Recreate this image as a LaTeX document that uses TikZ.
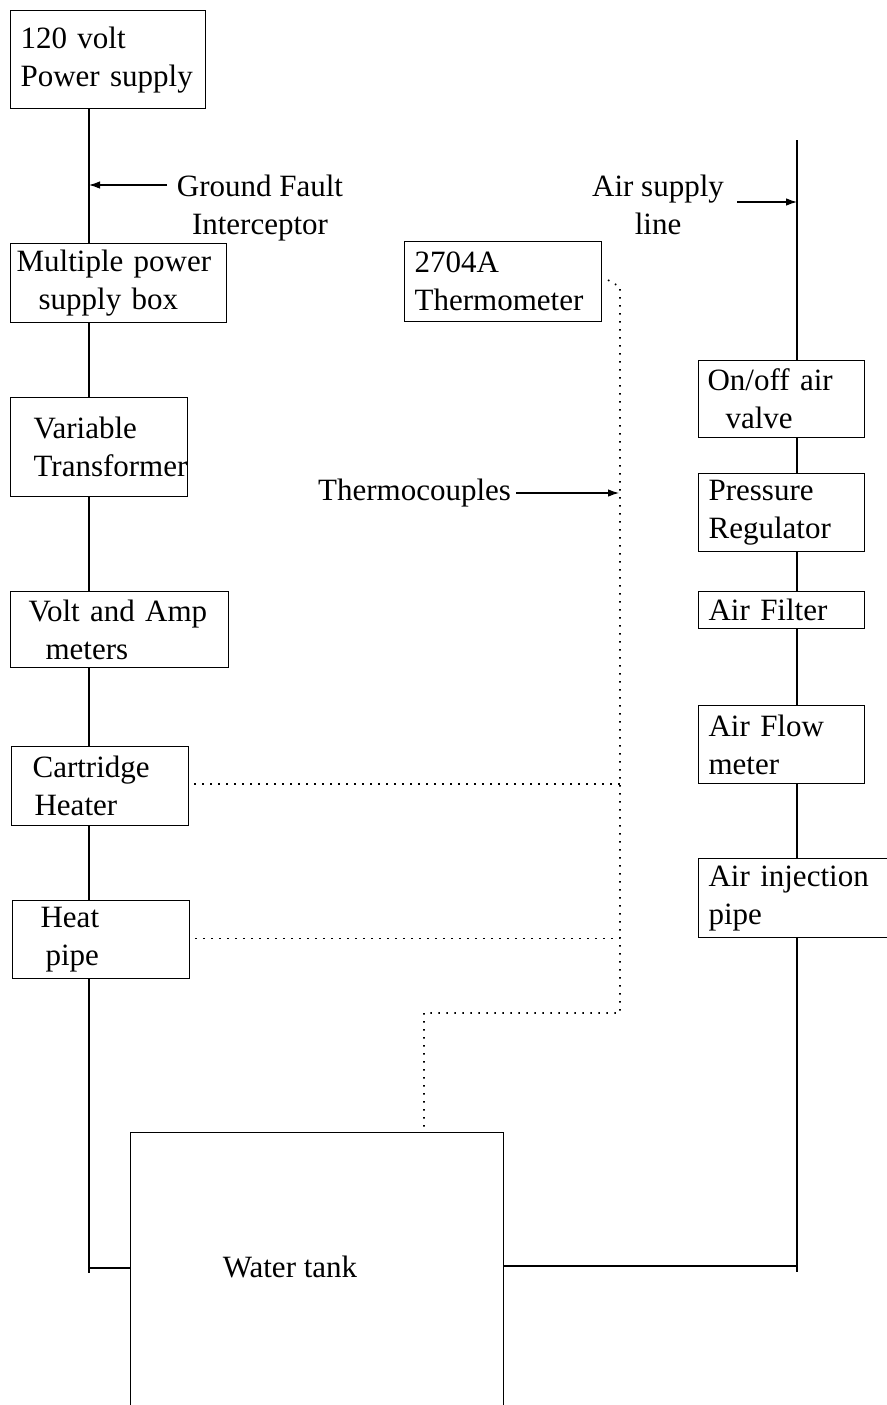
\documentclass[tikz,border=0pt]{standalone}
\usepackage{fontspec}
\setmainfont{Liberation Serif}
\usetikzlibrary{arrows.meta,calc}
\newcommand\bigfnt{\fontsize{31}{38}\selectfont}
\begin{document}
\begin{tikzpicture}[x=1pt,y=-1pt,
  box/.style={draw, line width=1.2pt, anchor=north west, align=left, inner ysep=0pt, font=\bigfnt},
  txt/.style={inner sep=0pt, font=\bigfnt, align=center},
  wire/.style={line width=1.2pt},
  dots/.style={line width=1.6pt, dash pattern=on 1.6pt off 6.4pt},
  arr/.style={line width=1.1pt, -{Latex[length=11pt,width=7.5pt]}}]
\useasboundingbox (0,0) rectangle (886,1405);
% left column
\node[box, minimum width=195, minimum height=98, inner xsep=10, text width=175] (ps) at (10,10) {120 volt\\Power supply};
\node[box, minimum width=216, minimum height=79, inner xsep=6, text width=204] (mps) at (10,243) {Multiple power\\\hspace*{22pt}supply box};
\node[box, minimum width=177, minimum height=99, inner xsep=4, text width=169] (vt) at (10,397) {\hspace*{19pt}Variable\\\hspace*{19pt}\rlap{Transformer}};
\node[box, minimum width=218, minimum height=76, inner xsep=18, text width=182] (va) at (10,591) {Volt and Amp\\\hspace*{17pt}meters};
\node[box, minimum width=177, minimum height=79, inner xsep=21, text width=135] (ch) at (11,746) {Cartridge\\\hspace*{2pt}Heater};
\node[box, minimum width=177, minimum height=78, inner xsep=28, text width=121] (hp) at (12,900) {Heat\\\hspace*{5pt}pipe};
% thermometer
\node[box, minimum width=197, minimum height=80, inner xsep=10, text width=177] (th) at (404,241) {2704A\\Thermometer};
% right column
\node[box, minimum width=166, minimum height=77, inner xsep=9, text width=148] (oo) at (698,360) {On/off air\\\hspace*{18pt}valve};
\node[box, minimum width=166, minimum height=78, inner xsep=10, text width=146] (pr) at (698,473) {Pressure\\Regulator};
\node[box, minimum width=166, minimum height=37, inner xsep=10, text width=146] (af) at (698,591) {Air Filter};
\node[box, minimum width=166, minimum height=78, inner xsep=10, text width=146] (afm) at (698,705) {Air Flow\\meter};
\node[box, minimum width=200, minimum height=79, inner xsep=10, text width=180] (aip) at (698,858) {Air injection\\pipe};
% water tank
\node[box, minimum width=373, minimum height=300] (tank) at (130,1132) {};
\node[txt] (tanklbl) at (290,1267) {Water tank};
% labels
\node[txt] (gfl) at (260,208) {Ground Fault\\Interceptor};
\node[txt] (asl) at (658,205) {Air supply\\line};
\node[txt, anchor=west] (tcl) at (318,493) {Thermocouples};
% coordinates
\coordinate (lx) at (89,0);
\coordinate (rx) at (797,0);
\coordinate (tcx) at (620,0);
\coordinate (ljn) at (89,1268);
\coordinate (rjn) at (797,1266);
\coordinate (airtop) at (797,140);
\coordinate (gf) at (167,185);
\coordinate (as) at (737,202);
\coordinate (d0) at (608,280);
\coordinate (d1) at (620,287);
\coordinate (dbend) at (424,1013);
% left wires
\draw[wire] (ps.south -| lx) -- (mps.north -| lx);
\draw[wire] (mps.south -| lx) -- (vt.north -| lx);
\draw[wire] (vt.south -| lx) -- (va.north -| lx);
\draw[wire] (va.south -| lx) -- (ch.north -| lx);
\draw[wire] (ch.south -| lx) -- (hp.north -| lx);
\draw[wire] (hp.south -| lx) -- (ljn) -- (ljn -| tank.west);
\draw[wire] (ljn) -- ++(0,5);
% right wires
\draw[wire] (airtop) -- (oo.north -| rx);
\draw[wire] (oo.south -| rx) -- (pr.north -| rx);
\draw[wire] (pr.south -| rx) -- (af.north -| rx);
\draw[wire] (af.south -| rx) -- (afm.north -| rx);
\draw[wire] (afm.south -| rx) -- (aip.north -| rx);
\draw[wire] (aip.south -| rx) -- (rjn) -- (rjn -| tank.east);
\draw[wire] (rjn) -- ++(0,6);
% arrows
\draw[arr] (gf) -- (gf -| lx);
\draw[arr] (as) -- (as -| rx);
\draw[arr] ($(tcl.east)+(5,0)$) -- ($(tcl.east -| tcx)+(-1,0)$);
% thermocouple dotted lines
\draw[dots] (d0) -- (d1) -- (tcx |- dbend) -- (dbend) -- ($(dbend |- tank.north)+(0,-5)$);
\draw[dots] ($(ch.east)+(5,-2)$) -- ($(tcx |- ch.east)+(0,-2)$);
\draw[dots] ($(hp.east)+(5,-1)$) -- ($(tcx |- hp.east)+(0,-1)$);
\end{tikzpicture}
\end{document}
